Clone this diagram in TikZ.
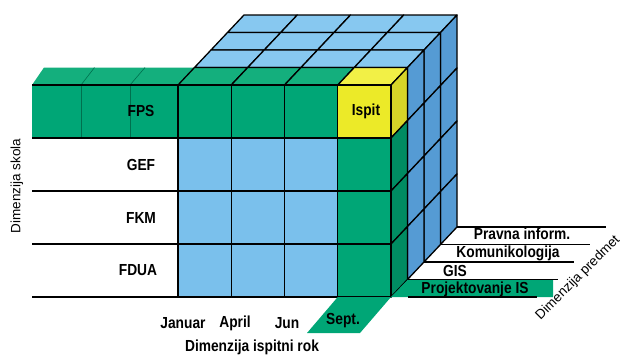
\documentclass[tikz,border=0pt]{standalone}
\usepackage{fontspec}
\setmainfont{Liberation Sans}[FakeStretch=0.86]
\newfontfamily\axisfont{Liberation Sans}
\definecolor{grn}{RGB}{0,166,118}
\definecolor{grnside}{RGB}{0,140,98}
\definecolor{grntop}{RGB}{20,175,125}
\definecolor{bfront}{RGB}{122,192,236}
\definecolor{btop}{RGB}{135,200,240}
\definecolor{bside}{RGB}{85,155,212}
\definecolor{yfront}{RGB}{236,234,40}
\definecolor{ytop}{RGB}{242,240,70}
\definecolor{yside}{RGB}{215,212,40}
\begin{document}
\begin{tikzpicture}[x=1pt,y=-1pt,
  grid/.style={draw=black,line width=1.3pt,line join=round},
  faint/.style={draw=grnside!80!black,line width=0.6pt},
  lbl/.style={font=\bfseries\fontsize{16}{18}\selectfont,inner sep=0pt},
  axislbl/.style={font=\axisfont\fontsize{13.5}{15}\selectfont,inner sep=0pt},
  rulel/.style={draw=black,line width=1.6pt}]
\useasboundingbox (0,0) rectangle (628,356);
\def\ddx{16.5}\def\ddy{-17.5}\def\cw{53.25}\def\ch{53}
% left bar (FPS)
\fill[grntop] (32,85) -- (44,67.5) -- (194.5,67.5) -- (178,85) -- cycle;
\draw[faint] (81,85) -- (94.5,67.5) (130,85) -- (145,67.5);
\fill[grn] (32,85) rectangle (178,138);
\draw[faint] (81,85) -- (81,138) (130,85) -- (130,138);
% top face
\foreach \k in {3,2,1,0}{
  \foreach \i in {0,...,3}{
    \pgfmathsetmacro\xa{178+\i*\cw+\k*\ddx}
    \pgfmathsetmacro\ya{85+\k*\ddy}
    \ifnum\k=0 \ifnum\i=3 \def\fc{ytop}\else\def\fc{grntop}\fi\else\def\fc{btop}\fi
    \filldraw[fill=\fc,grid] (\xa,\ya) -- ++(\cw,0) -- ++(\ddx,\ddy) -- ++(-\cw,0) -- cycle;
  }}
% right face
\foreach \k in {3,2,1,0}{
  \foreach \j in {0,...,3}{
    \pgfmathsetmacro\xa{391+\k*\ddx}
    \pgfmathsetmacro\ya{85+\j*\ch+\k*\ddy}
    \ifnum\k=0 \ifnum\j=0 \def\fc{yside}\else\def\fc{grnside}\fi\else\def\fc{bside}\fi
    \filldraw[fill=\fc,grid] (\xa,\ya) -- ++(\ddx,\ddy) -- ++(0,\ch) -- ++(-\ddx,-\ddy) -- cycle;
  }}
% front face
\foreach \i in {0,...,3}{
  \foreach \j in {0,...,3}{
    \pgfmathsetmacro\xa{178+\i*\cw}
    \pgfmathsetmacro\ya{85+\j*\ch}
    \ifnum\j=0 \ifnum\i=3 \def\fc{yfront}\else\def\fc{grn}\fi\else
      \ifnum\i=3 \def\fc{grn}\else\def\fc{bfront}\fi\fi
    \filldraw[fill=\fc,grid] (\xa,\ya) rectangle ++(\cw,\ch);
  }}
% row lines
\foreach \y in {85,138,191,244,297}{\draw[rulel] (32,\y) -- (178,\y);}
% row labels
\node[lbl] (fps) at (141,111) {FPS};
\node[lbl] (gef) at (141,165) {GEF};
\node[lbl] (fkm) at (141,218) {FKM};
\node[lbl] (fdua) at (138,270) {FDUA};
\node[lbl] (ispit) at (366,111) {Ispit};
\node[axislbl,rotate=90] (dsk) at (17,186) {Dimenzija skola};
% Sept. floor
\fill[grn] (337.75,297) -- (391,297) -- (360,333) -- (307,333) -- cycle;
\node[lbl] (jan) at (183,323) {Januar};
\node[lbl] (apr) at (235,323) {April};
\node[lbl] (jun) at (287,323) {Jun};
\node[lbl] (sep) at (343,321) {Sept.};
\node[lbl] (drok) at (252,347) {Dimenzija ispitni rok};
% subject strips
\fill[grn] (391,297) -- (408,279.5) -- (553,279.5) -- (553,297) -- cycle;
\draw[rulel] (457,227) -- (606,227);
\draw[rulel] (440.5,244.5) -- (590,244.5);
\draw[rulel] (424,262) -- (574,262);
\draw[rulel] (408,279.5) -- (558,279.5);
\draw[rulel] (408,297) -- (537,297);
\node[lbl] (pravna) at (522,234) {Pravna inform.};
\node[lbl] (komun) at (508,253) {Komunikologija};
\node[lbl] (gis) at (455,271) {GIS};
\node[lbl] (proj) at (475,289) {Projektovanje IS};
\node[axislbl,rotate=45] (dpr) at (578,278) {Dimenzija predmet};
\end{tikzpicture}
\end{document}
